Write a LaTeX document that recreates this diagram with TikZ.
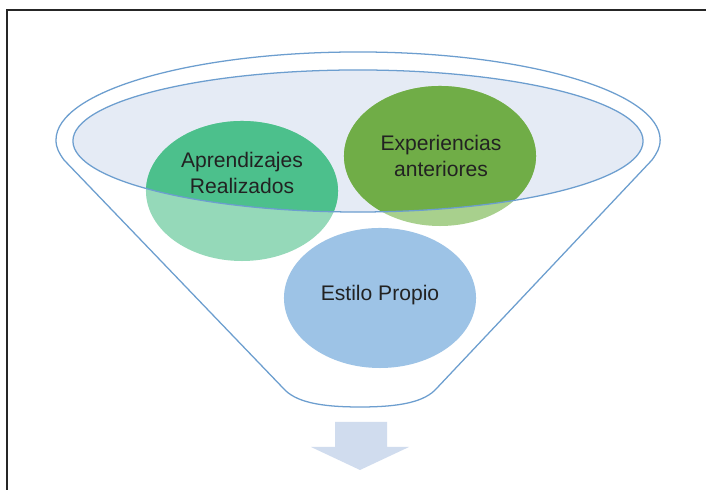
\documentclass[tikz,border=0pt]{standalone}
\usepackage{fontspec}
\setmainfont{Liberation Sans}
\usepackage{xcolor}
\usepackage{tikz}
\definecolor{rimblue}{HTML}{6C9ECF}
\definecolor{mouthfill}{HTML}{E5EBF5}
\definecolor{mint}{HTML}{4CC08C}
\definecolor{mintlight}{HTML}{95D9B9}
\definecolor{leaf}{HTML}{70AD47}
\definecolor{leaflight}{HTML}{A8D08D}
\definecolor{sky}{HTML}{9DC3E6}
\definecolor{arrowblue}{HTML}{D0DCEE}
\definecolor{inkgray}{HTML}{222222}
\tikzset{
  rim/.style={draw=rimblue,line width=0.9pt},
  lbl/.style={align=center,text=inkgray,font=\fontsize{15}{18.5}\selectfont,inner sep=0pt},
  frame/.style={draw=black!85,line width=1.8pt},
  downarr/.style={fill=arrowblue},
}

\begin{document}
\begin{tikzpicture}[x=0.025cm,y=0.025cm]
  \useasboundingbox (0,0) rectangle (706,490);
  \fill[white] (0,0) rectangle (706,490);
  \draw[frame] (7,0) -- (7,480) -- (706,480);
  % funnel mouth
  \fill[mouthfill] (358,349) ellipse [x radius=7.125cm,y radius=1.775cm];
  % balls, light part
  \fill[mintlight] (242,299) ellipse [x radius=2.4cm,y radius=1.75cm];
  \fill[leaflight] (440,334) ellipse [x radius=2.4cm,y radius=1.75cm];
  \fill[sky] (380,192) ellipse [x radius=2.4cm,y radius=1.75cm];
  % balls, part inside the mouth
  \begin{scope}
    \clip (358,349) ellipse [x radius=7.125cm,y radius=1.775cm];
    \fill[mint] (242,299) ellipse [x radius=2.4cm,y radius=1.75cm];
    \fill[leaf] (440,334) ellipse [x radius=2.4cm,y radius=1.75cm];
  \end{scope}
  \draw[rim] (358,349) ellipse [x radius=7.125cm,y radius=1.775cm];
  % funnel body
  \draw[rim] (56,350) arc [start angle=180,end angle=0,x radius=7.55cm,y radius=2.2cm]
    .. controls (660,342) and (657,337) .. (652,330) -- (437,102)
    .. controls (425,88) and (400,83) .. (360,83)
    .. controls (320,83) and (295,88) .. (283,102) -- (64,330)
    .. controls (59,337) and (56,342) .. (56,350);
  \node[lbl] (aprend) at (242,317) {Aprendizajes\\Realizados};
  \node[lbl] (exper) at (441,334) {Experiencias\\anteriores};
  \node[lbl] (estilo) at (380,195) {Estilo Propio};
  % output arrow
  \fill[downarr] (335,68) -- (387,68) -- (387,43) -- (409,43) -- (360,20)
    -- (311,43) -- (335,43) -- cycle;
\end{tikzpicture}
\end{document}
